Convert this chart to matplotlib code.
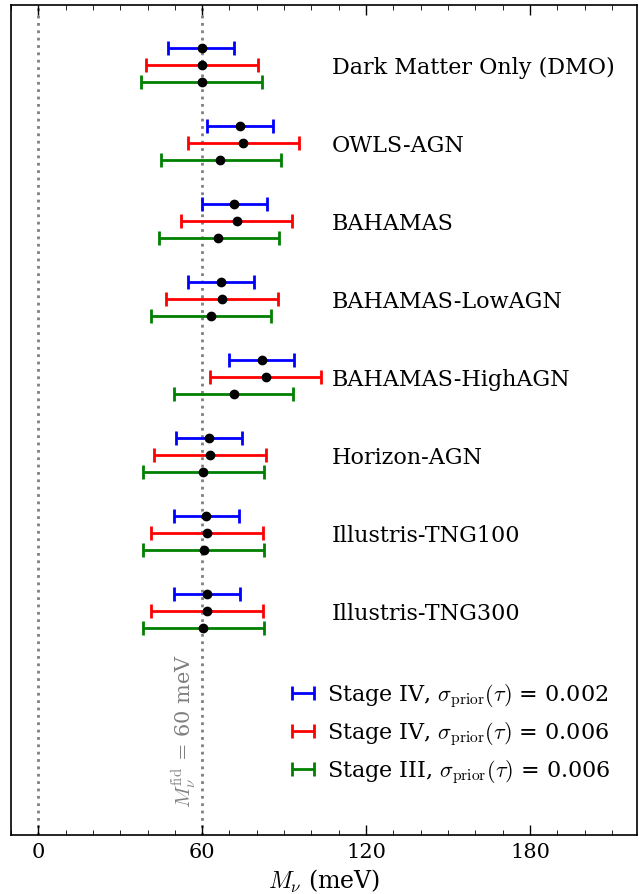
import numpy as np
import matplotlib
matplotlib.use("Agg")
import matplotlib.pyplot as plt

plt.rcParams['font.family'] = 'DejaVu Serif'
plt.rcParams['mathtext.fontset'] = 'cm'

models = ["Dark Matter Only (DMO)", "OWLS-AGN", "BAHAMAS", "BAHAMAS-LowAGN",
          "BAHAMAS-HighAGN", "Horizon-AGN", "Illustris-TNG100", "Illustris-TNG300"]

# best fit, lower, upper (meV)
s4_002_mid = [60.0, 73.9, 71.7, 67.0, 82.0, 62.6, 61.5, 61.8]
s4_002_lo = [47.6, 61.8, 60.0, 54.9, 69.9, 50.5, 49.8, 49.8]
s4_002_hi = [71.7, 86.0, 83.8, 79.0, 93.7, 74.6, 73.5, 73.9]

s4_006_mid = [60.0, 75.0, 72.8, 67.3, 83.4, 62.9, 61.8, 61.8]
s4_006_lo = [39.5, 54.9, 52.3, 46.8, 62.9, 42.4, 41.3, 41.3]
s4_006_hi = [80.5, 95.5, 92.9, 87.8, 103.5, 83.4, 82.3, 82.3]

s3_006_mid = [60.0, 66.6, 65.9, 63.3, 71.7, 60.4, 60.7, 60.4]
s3_006_lo = [37.7, 45.0, 44.3, 41.3, 49.8, 38.4, 38.4, 38.4]
s3_006_hi = [82.0, 88.9, 88.2, 85.3, 93.3, 82.7, 82.7, 82.7]

series = [
    (s4_002_mid, s4_002_lo, s4_002_hi, 'blue', r'Stage IV, $\sigma_{\rm prior}(\tau)$ = 0.002', -0.218),
    (s4_006_mid, s4_006_lo, s4_006_hi, 'red', r'Stage IV, $\sigma_{\rm prior}(\tau)$ = 0.006', 0.0),
    (s3_006_mid, s3_006_lo, s3_006_hi, 'green', r'Stage III, $\sigma_{\rm prior}(\tau)$ = 0.006', 0.218),
]

fig = plt.figure(figsize=(6.41, 8.94), dpi=100)
ax = fig.add_axes([0.017, 0.066, 0.977, 0.928])

ax.axvline(0, color='gray', ls=':', lw=2, zorder=0)
ax.axvline(60, color='gray', ls=':', lw=2, zorder=0)

ypos = np.arange(len(models))
for mid, lo, hi, col, lab, off in series:
    mid = np.array(mid)
    err = [mid - np.array(lo), np.array(hi) - mid]
    ax.errorbar(mid, ypos + off, xerr=err, fmt='none', ecolor=col, elinewidth=2,
                capsize=5, capthick=2, label=lab)
    ax.plot(mid, ypos + off, 'o', color='black', ms=6, zorder=5)

for i, m in enumerate(models):
    ax.text(107.5, ypos[i] + 0.03, m, fontsize=16, va='center', ha='left')

ax.text(53.3, 9.53, r'$M_\nu^{\rm fid}$ = 60 meV', rotation=90, color='gray',
        fontsize=15, ha='center', va='bottom')

ax.set_xlim(-9.9, 219.2)
ax.set_ylim(9.87, -0.77)
ax.set_xticks([0, 60, 120, 180])
ax.set_xticks(np.arange(-10, 220, 10), minor=True)
ax.set_yticks([])
ax.tick_params(axis='x', which='both', direction='in', top=True, labelsize=15, pad=6)
ax.tick_params(axis='x', which='major', length=7, width=1)
ax.tick_params(axis='x', which='minor', length=3.5)
ax.set_xlabel(r'$M_\nu$ (meV)', fontsize=17, labelpad=4)
for sp in ax.spines.values():
    sp.set_linewidth(1.2)

ax.legend(loc='lower right', frameon=False, fontsize=16, handlelength=1.3,
          handletextpad=0.45, bbox_to_anchor=(0.99, 0.035), labelspacing=0.46)

fig.savefig('out.png', dpi=100)
